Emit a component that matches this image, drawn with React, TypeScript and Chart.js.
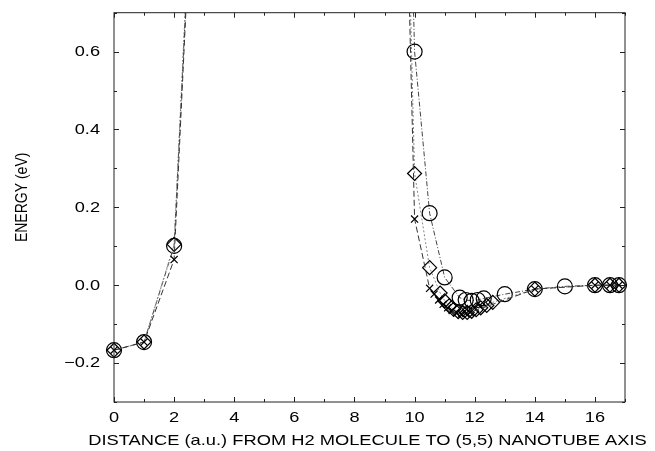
import React, { useEffect, useRef } from 'react';
import { Chart, registerables } from 'chart.js';

Chart.register(...registerables);

const FONT = "'Liberation Sans', Arial, Helvetica, sans-serif";

// Circles series
const circleX = [0, 1, 2, 2.5, 9.5, 10, 10.5, 11, 11.5, 11.7, 11.9, 12.1, 12.3, 13, 14, 15, 16, 16.5, 16.8];
const circleY = [-0.167, -0.146, 0.101, 0.9, 2.1, 0.6, 0.185, 0.02, -0.032, -0.038, -0.04, -0.038, -0.034, -0.023, -0.01, -0.003, 0.0, 0.0, 0.0];

// Diamonds series
const diamondX = [0, 1, 2, 2.5, 9.5, 10, 10.5, 10.85, 11.0, 11.15, 11.3, 11.45, 11.6, 11.75, 11.9, 12.05, 12.2, 12.4, 12.6, 14, 16, 16.5, 16.8];
const diamondY = [-0.167, -0.146, 0.105, 0.92, 1.85, 0.287, 0.045, -0.02, -0.04, -0.053, -0.062, -0.068, -0.07, -0.07, -0.067, -0.063, -0.058, -0.052, -0.044, -0.01, 0.0, 0.0, 0.0];

// Crosses series
const crossX = [0, 1, 2, 2.5, 9.5, 10, 10.5, 10.65, 10.8, 10.95, 11.1, 11.25, 11.4, 11.55, 11.7, 11.85, 14, 16, 16.5, 16.8];
const crossY = [-0.167, -0.146, 0.066, 0.88, 1.75, 0.17, -0.008, -0.023, -0.038, -0.049, -0.058, -0.065, -0.071, -0.074, -0.073, -0.07, -0.01, 0.0, 0.0, 0.0];

// Axes
const X_MIN = 0;
const X_MAX = 17;
const Y_MIN = -0.3;
const Y_MAX = 0.7;
const xMajorTicks = [0, 2, 4, 6, 8, 10, 12, 14, 16];
const yMajorTicks = [-0.2, 0.0, 0.2, 0.4, 0.6];

const X_TITLE = 'DISTANCE (a.u.) FROM H2 MOLECULE TO (5,5) NANOTUBE AXIS';
const Y_TITLE = 'ENERGY (eV)';

const toPts = (xs: number[], ys: number[]) => xs.map((x, i) => ({ x, y: ys[i] }));

const fmtY = (v: number) => {
  const s = v.toFixed(1);
  return s.startsWith('-') ? '\u2212' + s.slice(1) : s;
};

export default function App() {
  const ref = useRef<HTMLCanvasElement>(null);

  useEffect(() => {
    if (!ref.current) return;

    const frameTicks = {
      id: 'frameTicks',
      afterDatasetsDraw(chart: any) {
        const { ctx, chartArea: a, scales } = chart;
        const xs = scales.x;
        const ys = scales.y;
        ctx.save();
        ctx.strokeStyle = '#222';
        ctx.lineWidth = 1;
        ctx.strokeRect(a.left, a.top, a.right - a.left, a.bottom - a.top);
        ctx.beginPath();
        for (let v = X_MIN; v <= X_MAX; v += 1) {
          const px = Math.round(xs.getPixelForValue(v)) + 0.5;
          const len = xMajorTicks.includes(v) ? 5 : 3;
          ctx.moveTo(px, a.bottom);
          ctx.lineTo(px, a.bottom - len);
          ctx.moveTo(px, a.top);
          ctx.lineTo(px, a.top + len);
        }
        for (let k = Math.round(Y_MIN * 10); k <= Math.round(Y_MAX * 10); k++) {
          const v = k / 10;
          const py = Math.round(ys.getPixelForValue(v)) + 0.5;
          const len = yMajorTicks.some((t) => Math.abs(t - v) < 1e-9) ? 5 : 3;
          ctx.moveTo(a.left, py);
          ctx.lineTo(a.left + len, py);
          ctx.moveTo(a.right, py);
          ctx.lineTo(a.right - len, py);
        }
        ctx.stroke();

        ctx.fillStyle = '#000';
        ctx.textBaseline = 'middle';

        // x tick labels
        ctx.font = `14px ${FONT}`;
        ctx.textAlign = 'center';
        for (const v of xMajorTicks) {
          ctx.save();
          ctx.translate(xs.getPixelForValue(v), a.bottom + 16.5);
          ctx.scale(1.3, 1);
          ctx.fillText(String(v), 0, 0);
          ctx.restore();
        }
        // y tick labels
        ctx.textAlign = 'right';
        for (const v of yMajorTicks) {
          ctx.save();
          ctx.translate(a.left - 14, ys.getPixelForValue(v) + 0.5);
          ctx.scale(1.3, 1);
          ctx.fillText(fmtY(v), 0, 0);
          ctx.restore();
        }

        // x-axis title
        ctx.font = `15px ${FONT}`;
        ctx.textAlign = 'center';
        ctx.save();
        ctx.translate((a.left + a.right) / 2 - 2, a.bottom + 39);
        ctx.scale(1.22, 1);
        ctx.fillText(X_TITLE, 0, 0);
        ctx.restore();

        // y-axis title
        ctx.font = `14px ${FONT}`;
        ctx.save();
        ctx.translate(22, (a.top + a.bottom) / 2 - 10);
        ctx.scale(1.2, 1);
        ctx.rotate(-Math.PI / 2);
        ctx.fillText(Y_TITLE, 0, 0);
        ctx.restore();

        ctx.restore();
      },
    };

    const common = {
      showLine: true,
      borderWidth: 1,
      pointBorderColor: '#000',
      pointBackgroundColor: 'rgba(0,0,0,0)',
      pointBorderWidth: 1.2,
      backgroundColor: 'rgba(0,0,0,0)',
      fill: false,
      tension: 0,
      clip: { left: 10, right: 10, top: 0, bottom: 10 },
    };

    const chart = new Chart(ref.current, {
      type: 'scatter',
      data: {
        datasets: [
          {
            ...common,
            label: 'crosses',
            data: toPts(crossX, crossY),
            borderColor: '#333',
            borderDash: [6, 3],
            pointStyle: 'crossRot',
            pointRadius: 5,
            pointHoverRadius: 5,
          },
          {
            ...common,
            label: 'diamonds',
            data: toPts(diamondX, diamondY),
            borderColor: '#888',
            borderDash: [2, 2],
            pointStyle: 'rectRot',
            pointRadius: 7,
            pointHoverRadius: 7,
          },
          {
            ...common,
            label: 'circles',
            data: toPts(circleX, circleY),
            borderColor: '#444',
            borderDash: [5, 2, 1, 2],
            pointStyle: 'circle',
            pointRadius: 7.5,
            pointHoverRadius: 7.5,
          },
        ],
      } as any,
      plugins: [frameTicks],
      options: {
        responsive: false,
        animation: false,
        devicePixelRatio: 1,
        layout: { padding: { left: 0, top: 12.7, right: 30, bottom: 0 } },
        plugins: {
          legend: { display: false },
          tooltip: { enabled: false },
        },
        scales: {
          x: {
            type: 'linear',
            min: X_MIN,
            max: X_MAX,
            grid: { display: false, drawTicks: false },
            border: { display: false },
            afterFit: (s: any) => {
              s.height = 49;
            },
            ticks: { display: false, stepSize: 1 },
          },
          y: {
            type: 'linear',
            min: Y_MIN,
            max: Y_MAX,
            grid: { display: false, drawTicks: false },
            border: { display: false },
            afterFit: (s: any) => {
              s.width = 114;
            },
            ticks: { display: false, stepSize: 0.1 },
          },
        },
      } as any,
    });

    return () => chart.destroy();
  }, []);

  return (
    <div style={{ position: 'fixed', left: 0, top: 0, width: 655, height: 451, background: '#fff' }}>
      <canvas ref={ref} width={655} height={451} style={{ width: 655, height: 451, display: 'block' }} />
    </div>
  );
}
